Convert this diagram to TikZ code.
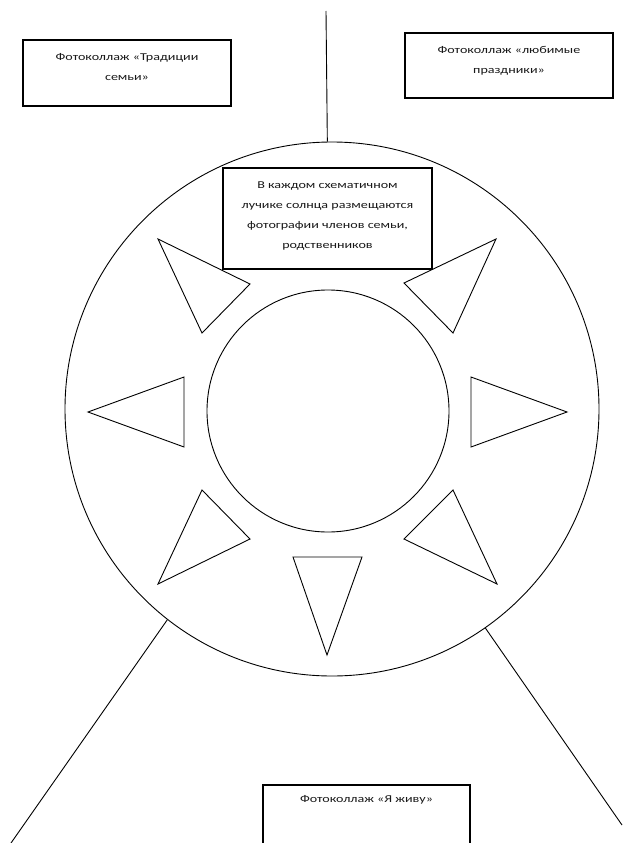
\documentclass[tikz,border=0pt]{standalone}
\usepackage{fontspec}
\setmainfont{Carlito}[FakeStretch=1.34]
\begin{document}
\begin{tikzpicture}[x=1pt,y=-1pt,
  ln/.style={draw=black, line width=0.9pt},
  ring/.style={circle, draw=black, line width=0.9pt, inner sep=0pt},
  boxst/.style={rectangle, draw=black, line width=1.1pt, fill=white, inner sep=0pt},
  txt/.style={font=\fontsize{10.5}{20}\selectfont, align=center, inner sep=0pt, text=black!90},
  ray/.style={draw=black, line width=0.9pt, line join=miter}]
\useasboundingbox (0,0) rectangle (622,843);

% sun
\node[ring, minimum size=534pt] (sun) at (332,409) {};
\node[ring, minimum size=242pt] (core) at (328,411) {};

% connectors
\coordinate (topend) at (326,11);
\coordinate (llend) at (11,843);
\coordinate (lrend) at (622,825);
\draw[ln] (sun.91.3) -- (topend);
\draw[ln] (sun.232) -- (llend);
\draw[ln] (sun.305.4) -- (lrend);

% rays
\draw[ray] (158,239) -- (250,284) -- (202,333) -- cycle;
\draw[ray] (88,412) -- (184,377) -- (184,447) -- cycle;
\draw[ray] (496,239) -- (404,283) -- (453,333) -- cycle;
\draw[ray] (567,412) -- (471,377) -- (471,447) -- cycle;
\draw[ray] (202,490) -- (250,539) -- (158,584) -- cycle;
\draw[ray] (293,557) -- (362,557) -- (327,655) -- cycle;
\draw[ray] (453,490) -- (404,539) -- (497,584) -- cycle;

% boxes
\node[boxst, minimum width=208pt, minimum height=66pt] (boxL) at (127,73) {};
\node[txt] (txtL) at (127,67) {Фотоколлаж «Традиции\\семьи»};

\node[boxst, minimum width=208pt, minimum height=65pt] (boxR) at (509,65.5) {};
\node[txt] (txtR) at (509,60.5) {Фотоколлаж «любимые\\праздники»};

\node[boxst, minimum width=209pt, minimum height=101pt] (boxC) at (327.5,218.5) {};
\node[txt] (txtC) at (327.5,216) {В каждом схематичном\\лучике солнца размещаются\\фотографии членов семьи,\\родственников};

\node[boxst, minimum width=207pt, minimum height=120pt] (boxB) at (366.5,845) {};
\node[txt] (txtB) at (366.5,800) {Фотоколлаж «Я живу»};
\end{tikzpicture}
\end{document}
